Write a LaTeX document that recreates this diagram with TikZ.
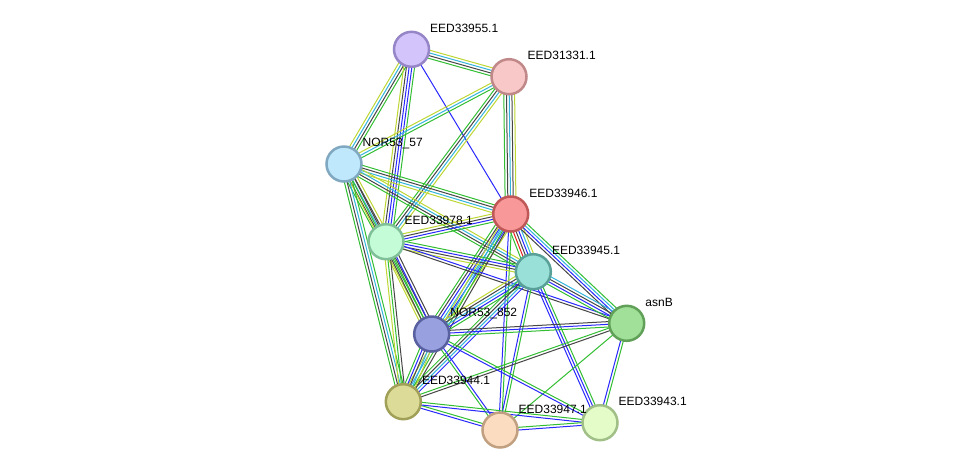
\documentclass[tikz,border=0pt]{standalone}
\usepackage{fontspec}
\setmainfont{Liberation Sans}
\usetikzlibrary{calc,backgrounds}
\definecolor{sg}{RGB}{50,190,50}
\definecolor{sc}{RGB}{50,180,220}
\definecolor{sk}{RGB}{70,70,70}
\definecolor{sy}{RGB}{190,215,50}
\definecolor{sb}{RGB}{40,40,255}
\definecolor{sr}{RGB}{230,30,30}
\newcommand\bund[3]{%
  \gdef\bn{0}%
  \foreach \cc in {#3}{\xdef\bn{\the\numexpr\bn+1\relax}}%
  \foreach \cc [count=\ii] in {#3}{%
    \pgfmathsetmacro\off{(\ii-(\bn+1)/2)*2.7}%
    \draw[ed,draw=\cc] ($(#1.center)!\off pt!90:(#2.center)$) -- ($(#2.center)!\off pt!-90:(#1.center)$);
  }%
}
\tikzset{
  prot/.style={circle,minimum size=35pt,inner sep=0pt,line width=2.5pt},
  ed/.style={line width=1pt},
  lbl/.style={anchor=west,inner sep=0pt,font=\fontsize{12}{14}\selectfont,text=black}
}
\begin{document}
\begin{tikzpicture}[x=1pt,y=-1pt]
\useasboundingbox (0,0) rectangle (975,475);
\node[prot,fill={rgb,255:red,212;green,196;blue,252},draw={rgb,255:red,150;green,134;blue,200}] (A) at (411.5,49.3) {};
\node[prot,fill={rgb,255:red,248;green,200;blue,200},draw={rgb,255:red,192;green,136;blue,136}] (B) at (509,76.7) {};
\node[prot,fill={rgb,255:red,192;green,232;blue,252},draw={rgb,255:red,128;green,168;blue,192}] (C) at (344,164) {};
\node[prot,fill={rgb,255:red,248;green,152;blue,152},draw={rgb,255:red,192;green,88;blue,88}] (D) at (510.7,214) {};
\node[prot,fill={rgb,255:red,196;green,252;blue,216},draw={rgb,255:red,128;green,192;blue,152}] (E) at (386,241.7) {};
\node[prot,fill={rgb,255:red,152;green,224;blue,216},draw={rgb,255:red,88;green,160;blue,152}] (F) at (533.3,271.7) {};
\node[prot,fill={rgb,255:red,160;green,224;blue,152},draw={rgb,255:red,96;green,160;blue,88}] (G) at (626.7,323.3) {};
\node[prot,fill={rgb,255:red,152;green,160;blue,224},draw={rgb,255:red,88;green,96;blue,160}] (H) at (431.7,334) {};
\node[prot,fill={rgb,255:red,220;green,220;blue,152},draw={rgb,255:red,160;green,160;blue,88}] (I) at (403.3,401.7) {};
\node[prot,fill={rgb,255:red,252;green,220;blue,192},draw={rgb,255:red,192;green,160;blue,128}] (J) at (500,430) {};
\node[prot,fill={rgb,255:red,228;green,252;blue,200},draw={rgb,255:red,160;green,192;blue,136}] (K) at (600,422.7) {};
\begin{pgfonlayer}{background}
\fill[white] (0,0) rectangle (975,475);
\bund{A}{B}{sg,sk,sc,sy}
\bund{A}{C}{sy,sc,sk,sg}
\bund{A}{E}{sy,sk,sb,sb,sg}
\bund{A}{D}{sb}
\bund{B}{C}{sy,sc,sg}
\bund{B}{E}{sg,sk,sc,sy}
\bund{B}{D}{sg,sk,sc,sk,sy}
\bund{C}{D}{sy,sc,sk,sg}
\bund{C}{F}{sg,sk,sc,sy}
\bund{C}{E}{sg,sk,sc,sk,sy}
\bund{C}{H}{sy,sg,sk}
\bund{C}{I}{sg,sk,sc,sg}
\bund{D}{E}{sy,sk,sb,sg}
\bund{D}{F}{sg,sr,sk,sb,sc,sy}
\bund{D}{G}{sk,sb,sc,sg}
\bund{D}{H}{sg,sk,sb,sc,sb,sy}
\bund{D}{I}{sy,sc,sg,sk}
\bund{D}{J}{sb,sg}
\bund{E}{F}{sy,sk,sb,sg}
\bund{E}{G}{sk,sb}
\bund{E}{H}{sy,sk,sg,sb,sk}
\bund{E}{I}{sy,sg,sk}
\bund{F}{G}{sg,sb,sk,sc}
\bund{F}{H}{sy,sk,sc,sb,sg}
\bund{F}{I}{sg,sk,sc,sb}
\bund{F}{J}{sb,sg}
\bund{F}{K}{sb,sb,sg}
\bund{G}{H}{sk,sb,sg}
\bund{G}{I}{sg,sk}
\bund{G}{J}{sg}
\bund{G}{K}{sb,sg}
\bund{H}{I}{sg,sb,sk,sc,sy}
\bund{H}{J}{sg,sb}
\bund{H}{K}{sb,sg}
\bund{I}{J}{sb,sg}
\bund{I}{K}{sb,sg}
\bund{J}{K}{sb,sg}
\end{pgfonlayer}
\node[lbl] (lA) at ($(A.center)+(18.5,-21)$) {EED33955.1};
\node[lbl] (lB) at ($(B.center)+(18.5,-21)$) {EED31331.1};
\node[lbl] (lC) at ($(C.center)+(18.5,-21)$) {NOR53\_57};
\node[lbl] (lD) at ($(D.center)+(18.5,-21)$) {EED33946.1};
\node[lbl] (lE) at ($(E.center)+(18.5,-21)$) {EED33978.1};
\node[lbl] (lF) at ($(F.center)+(18.5,-21)$) {EED33945.1};
\node[lbl] (lG) at ($(G.center)+(18.5,-21)$) {asnB};
\node[lbl] (lH) at ($(H.center)+(18.5,-21)$) {NOR53\_852};
\node[lbl] (lI) at ($(I.center)+(18.5,-21)$) {EED33944.1};
\node[lbl] (lJ) at ($(J.center)+(18.5,-21)$) {EED33947.1};
\node[lbl] (lK) at ($(K.center)+(18.5,-21)$) {EED33943.1};
\end{tikzpicture}
\end{document}
